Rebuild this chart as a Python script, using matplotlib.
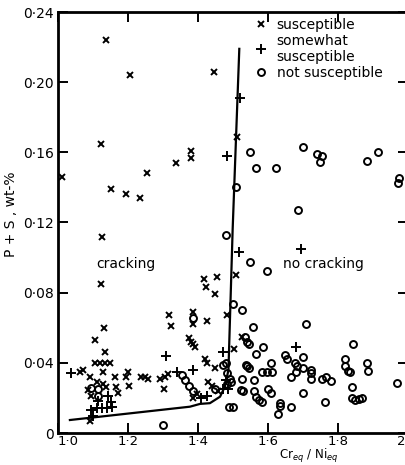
import matplotlib
matplotlib.use("Agg")
import matplotlib.pyplot as plt

# ---------------------------------------------------------------------------
# Data (Cr_eq/Ni_eq vs P+S wt-%)
# ---------------------------------------------------------------------------
sus_x = [1.136, 1.205, 1.445, 1.124, 1.011, 1.152, 1.195, 1.235, 1.253, 1.338,
         1.381, 1.381, 1.512, 1.126, 1.124, 1.416, 1.422, 1.453, 1.450, 1.509,
         1.318, 1.323, 1.385, 1.385, 1.425, 1.484, 1.375, 1.385, 1.392, 1.380,
         1.420, 1.425, 1.449, 1.525, 1.503,
         1.131, 1.107, 1.133, 1.105, 1.120, 1.135, 1.150,
         1.062, 1.070, 1.090, 1.129, 1.164, 1.195, 1.200, 1.202, 1.238,
         1.112, 1.130, 1.086, 1.138, 1.167, 1.171, 1.095, 1.091,
         1.249, 1.257, 1.291, 1.305, 1.315, 1.303,
         1.387, 1.396, 1.430, 1.440, 1.457]
sus_y = [0.224, 0.204, 0.206, 0.165, 0.146, 0.139, 0.136, 0.134, 0.148, 0.154,
         0.161, 0.157, 0.169, 0.112, 0.085, 0.088, 0.083, 0.089, 0.079, 0.090,
         0.067, 0.061, 0.069, 0.062, 0.064, 0.067, 0.054, 0.051, 0.049, 0.052,
         0.042, 0.040, 0.037, 0.055, 0.048,
         0.060, 0.053, 0.046, 0.040, 0.040, 0.040, 0.040,
         0.035, 0.036, 0.032, 0.035, 0.032, 0.032, 0.035, 0.027, 0.032,
         0.029, 0.028, 0.0245, 0.026, 0.026, 0.023, 0.021, 0.007,
         0.032, 0.031, 0.031, 0.032, 0.0335, 0.025,
         0.020, 0.022, 0.029, 0.027, 0.024]

some_x = [1.482, 1.520, 1.518, 1.693, 1.680, 1.472, 1.309, 1.387, 1.341, 1.410,
          1.425, 1.480, 1.472, 1.487, 1.036, 1.143, 1.114, 1.152,
          1.095, 1.110, 1.125, 1.140, 1.155, 1.100]
some_y = [0.158, 0.191, 0.103, 0.105, 0.049, 0.046, 0.044, 0.036, 0.035, 0.020,
          0.021, 0.030, 0.025, 0.025, 0.034, 0.021, 0.018, 0.0175,
          0.013, 0.014, 0.014, 0.014, 0.015, 0.0095]

not_x = [1.549, 1.566, 1.623, 1.699, 1.741, 1.753, 1.749, 1.884, 1.915, 1.975,
         1.972, 1.510, 1.686, 1.481, 1.549, 1.598, 1.385, 1.472,
         1.355, 1.364, 1.375, 1.387, 1.450, 1.301, 1.095, 1.114, 1.114,
         1.501, 1.525, 1.558, 1.710, 1.533, 1.540, 1.545, 1.587, 1.567,
         1.649, 1.654, 1.701, 1.480, 1.610, 1.537, 1.540, 1.545,
         1.677, 1.682, 1.700, 1.722, 1.722, 1.582, 1.597, 1.611,
         1.482, 1.492, 1.665, 1.680, 1.722, 1.525, 1.561, 1.483, 1.495,
         1.522, 1.530, 1.560, 1.601, 1.610, 1.699,
         1.566, 1.574, 1.584, 1.634, 1.634, 1.665, 1.630, 1.490, 1.500,
         1.843, 1.821, 1.820, 1.829, 1.834, 1.882, 1.886,
         1.753, 1.765, 1.780, 1.840, 1.840, 1.850, 1.860, 1.870, 1.763, 1.968]
not_y = [0.160, 0.151, 0.151, 0.163, 0.159, 0.158, 0.1545, 0.155, 0.160, 0.1455,
         0.1425, 0.140, 0.127, 0.1126, 0.0975, 0.0925, 0.0655, 0.039,
         0.033, 0.030, 0.027, 0.024, 0.025, 0.0046, 0.0255, 0.025, 0.021,
         0.0737, 0.070, 0.0607, 0.0623, 0.055, 0.052, 0.051, 0.049, 0.045,
         0.0446, 0.042, 0.0436, 0.040, 0.040, 0.039, 0.038, 0.037,
         0.040, 0.038, 0.037, 0.036, 0.034, 0.035, 0.035, 0.035,
         0.034, 0.031, 0.032, 0.0345, 0.031, 0.031, 0.030, 0.028, 0.029,
         0.0246, 0.024, 0.024, 0.025, 0.023, 0.0227,
         0.0207, 0.019, 0.0177, 0.017, 0.0155, 0.0147, 0.0107, 0.015, 0.015,
         0.0508, 0.042, 0.038, 0.0356, 0.035, 0.040, 0.0356,
         0.031, 0.032, 0.0295, 0.026, 0.020, 0.0186, 0.0192, 0.0198, 0.0175, 0.0284]

# boundary between cracking / no cracking
line_x = [1.034, 1.377, 1.406, 1.434, 1.463, 1.477, 1.487, 1.499, 1.518]
line_y = [0.0074, 0.015, 0.0166, 0.017, 0.0207, 0.0265, 0.036, 0.116, 0.219]

xticks = [1.0, 1.2, 1.4, 1.6, 1.8, 2.0]
xtick_labels = ["1·0", "1·2", "1·4", "1·6", "1·8", "2·0"]
yticks = [0, 0.04, 0.08, 0.12, 0.16, 0.20, 0.24]
ytick_labels = ["0", "0·04", "0·08", "0·12", "0·16", "0·20", "0·24"]

# ---------------------------------------------------------------------------
# Plot
# ---------------------------------------------------------------------------
plt.rcParams["font.family"] = ["DejaVu Sans"]
fig = plt.figure(figsize=(4.05, 4.65), dpi=100)
ax = fig.add_axes([58 / 405, 1 - 433 / 465, 350 / 405, 421 / 465])

ax.plot(sus_x, sus_y, "kx", markersize=5, markeredgewidth=1.4, linestyle="none",
        label="susceptible")
ax.plot(some_x, some_y, "k+", markersize=6.5, markeredgewidth=1.4, linestyle="none",
        label="somewhat\nsusceptible")
ax.plot(not_x, not_y, "ko", markerfacecolor="none", markersize=5,
        markeredgewidth=1.4, linestyle="none", label="not susceptible")
ax.plot(line_x, line_y, "k-", linewidth=1.6)

ax.text(1.11, 0.0965, "cracking", fontsize=10, va="center")
ax.text(1.643, 0.0965, "no cracking", fontsize=10, va="center")

ax.set_xlim(1.0, 2.0)
ax.set_ylim(0, 0.24)
ax.set_xticks(xticks)
ax.set_xticklabels(xtick_labels)
ax.get_xticklabels()[0].set_horizontalalignment("left")
ax.set_yticks(yticks)
ax.set_yticklabels(ytick_labels)
ax.tick_params(direction="in", length=7, width=1.4, labelsize=10, pad=3,
               top=True, right=True)
ax.tick_params(axis="x", pad=1.5, labelsize=9.5)
for s in ax.spines.values():
    s.set_linewidth(2)

ax.set_ylabel("P + S , wt-%", fontsize=10)
ax.yaxis.set_label_coords(-0.115, 0.52)
ax.set_xlabel("Cr$_{eq}$ / Ni$_{eq}$", fontsize=8.5)
ax.xaxis.set_label_coords(0.715, -0.034)

ax.legend(loc="upper left", bbox_to_anchor=(0.545, 1.0), frameon=False,
          fontsize=10, handlelength=1.0, handletextpad=0.6, labelspacing=0.15,
          borderaxespad=0.2, borderpad=0.2)

fig.savefig("out.png", dpi=100)
